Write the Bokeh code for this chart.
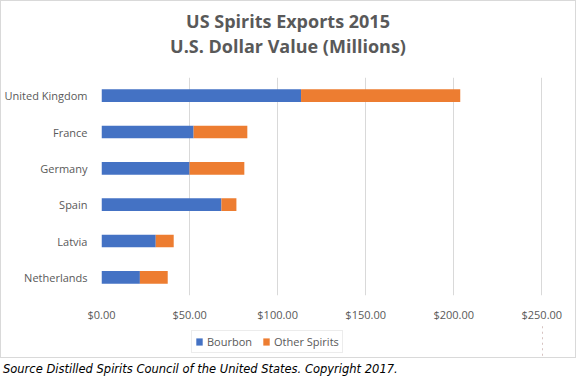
from bokeh.plotting import figure
from bokeh.models import ColumnDataSource, NumeralTickFormatter, Legend, LegendItem, Div, FactorRange
from bokeh.layouts import column
from bokeh.embed import file_html
from bokeh.resources import INLINE

countries = ["United Kingdom", "France", "Germany", "Spain", "Latvia", "Netherlands"]
bourbon = [113.3, 52.3, 50.0, 68.1, 30.8, 21.8]
other = [90.4, 30.5, 31.1, 8.5, 10.2, 15.8]
series = ["Bourbon", "Other Spirits"]
colors = ["#4472C4", "#ED7D31"]
x_ticks = [0, 50, 100, 150, 200, 250]
title_lines = ["US Spirits Exports 2015", "U.S. Dollar Value (Millions)"]
source_note = "Source Distilled Spirits Council of the United States. Copyright 2017."

src = ColumnDataSource(dict(country=countries, Bourbon=bourbon, **{"Other Spirits": other}))

title_div = Div(text="<br>".join(title_lines), width=574, height=66, margin=0,
                styles={"font-family": "Open Sans", "font-weight": "bold", "font-size": "18px",
                        "color": "#595959", "text-align": "center", "line-height": "25px",
                        "padding-top": "8px", "box-sizing": "border-box"})

p = figure(width=574, height=257, y_range=FactorRange(*countries[::-1]), x_range=(0, 250.4),
           output_backend="svg", toolbar_location=None,
           min_border_left=97, min_border_right=33, min_border_bottom=27, min_border_top=10)
rs = p.hbar_stack(series, y="country", height=0.35, color=colors, source=src, line_width=0)
p.title.visible = False

p.xaxis.ticker = x_ticks
p.xaxis.formatter = NumeralTickFormatter(format="$0.00")
for ax in (p.xaxis, p.yaxis):
    ax.axis_line_color = None
    ax.major_tick_line_color = None
    ax.minor_tick_line_color = None
    ax.major_label_text_color = "#595959"
    ax.major_label_text_font = "Open Sans"
    ax.major_label_text_font_size = "11px"
p.xaxis.major_label_standoff = 5
p.yaxis.major_label_standoff = 8
p.ygrid.grid_line_color = None
p.xgrid.grid_line_color = "#d9d9d9"
p.xgrid.ticker = x_ticks
p.outline_line_color = None
p.y_range.range_padding = 0

# legend strip: same series drawn outside the visible range, only the legend shows
lf = figure(width=574, height=33, x_range=(-1000, -999), y_range=FactorRange(*countries),
            output_backend="svg", toolbar_location=None, min_border=0)
lf.axis.visible = False
lf.grid.visible = False
lf.outline_line_color = None
lrs = lf.hbar_stack(series, y="country", height=0.35, color=colors, source=src, line_width=0)
legend = Legend(items=[LegendItem(label=s, renderers=[r]) for s, r in zip(series, lrs)],
                orientation="horizontal", location=(90, 4), border_line_color="#d9d9d9",
                label_text_font="Open Sans", label_text_font_size="11px", label_text_color="#595959",
                glyph_width=8, glyph_height=9, spacing=10, padding=3, label_standoff=4,
                label_height=14, margin=0, background_fill_alpha=0)
lf.add_layout(legend, "center")

chart = column(title_div, p, lf, spacing=0, styles={"border": "1px solid #d9d9d9"})

div = Div(text=source_note, width=570, height=16, margin=(3, 0, 0, 3),
          styles={"font-family": "DejaVu Sans", "font-style": "italic", "font-size": "11.5px",
                  "color": "#000000"})

layout = column(chart, div, spacing=0)
open("out.html", "w").write(file_html(layout, INLINE))
